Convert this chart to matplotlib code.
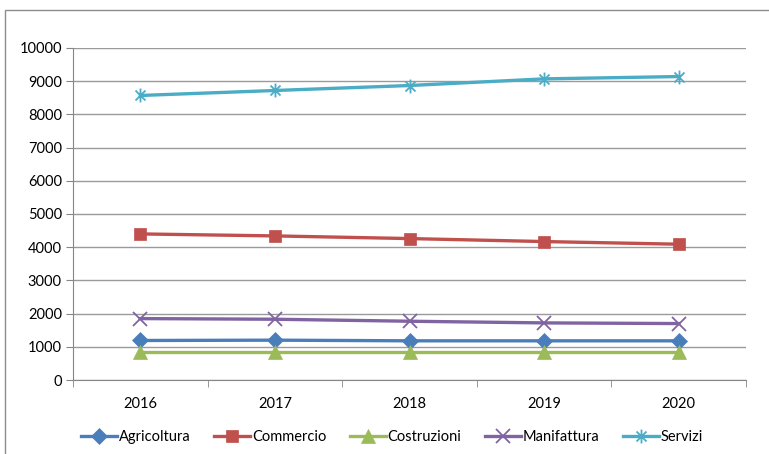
import matplotlib
matplotlib.use("Agg")
import matplotlib.pyplot as plt
from matplotlib.path import Path
from matplotlib.patches import Rectangle

years = ["2016", "2017", "2018", "2019", "2020"]
agricoltura = [1190, 1200, 1180, 1180, 1180]
commercio = [4400, 4340, 4260, 4170, 4090]
costruzioni = [840, 840, 840, 840, 840]
manifattura = [1850, 1830, 1770, 1720, 1700]
servizi = [8570, 8720, 8870, 9070, 9140]
y_ticks = [0, 1000, 2000, 3000, 4000, 5000, 6000, 7000, 8000, 9000, 10000]

plt.rcParams["font.family"] = ["Lato", "DejaVu Sans"]

# asterisk-like star marker: vertical stroke plus an X
star = Path(
    [(0, -1), (0, 1), (-0.72, -0.72), (0.72, 0.72), (-0.72, 0.72), (0.72, -0.72)],
    [Path.MOVETO, Path.LINETO, Path.MOVETO, Path.LINETO, Path.MOVETO, Path.LINETO],
)

fig = plt.figure(figsize=(7.69, 4.54), dpi=100)
ax = fig.add_axes([73 / 769, 74 / 454, 673 / 769, 332 / 454])

# outer chart border
fig.patches.append(Rectangle((5 / 769, -0.05), 1.2, (444 / 454) + 0.05,
                             transform=fig.transFigure, fill=False,
                             edgecolor="#8c8c8c", linewidth=1.0))

x = list(range(len(years)))
series = [
    ("Agricoltura", agricoltura, "#4a7ebb", "D", 8),
    ("Commercio", commercio, "#c0504d", "s", 9),
    ("Costruzioni", costruzioni, "#9bbb59", "^", 10),
    ("Manifattura", manifattura, "#8064a2", "x", 10),
    ("Servizi", servizi, "#4bacc6", star, 10),
]
for name, vals, color, mk, ms in series:
    ax.plot(x, vals, color=color, linewidth=2.4, marker=mk, markersize=ms,
            markerfacecolor=color, markeredgecolor=color,
            markeredgewidth=1.3 if mk in ("x",) or mk is star else 0.5,
            label=name, zorder=3)

ax.set_xlim(-0.5, 4.5)
ax.set_ylim(0, 10000)
ax.set_yticks(y_ticks)
ax.set_yticklabels([str(v) for v in y_ticks])
ax.set_xticks(x)
ax.set_xticklabels(years)
ax.set_xticks([i - 0.5 for i in range(6)], minor=True)
ax.tick_params(axis="x", which="major", length=0, pad=12, labelsize=10.5)
ax.tick_params(axis="x", which="minor", length=5, color="#868686", direction="out")
ax.tick_params(axis="y", length=5, color="#868686", direction="out", pad=3,
               labelsize=10.5)
ax.grid(axis="y", color="#9a9a9a", linewidth=1.0)
ax.set_axisbelow(True)
for side in ("top", "right"):
    ax.spines[side].set_visible(False)
ax.spines["left"].set_color("#868686")
ax.spines["bottom"].set_color("#868686")

leg = fig.legend(loc="center", bbox_to_anchor=(392 / 769, 17 / 454), ncol=5,
                 frameon=False, fontsize=10.5, handlelength=2.5,
                 handletextpad=0.1, columnspacing=1.6)

fig.savefig("out.png", dpi=100)
